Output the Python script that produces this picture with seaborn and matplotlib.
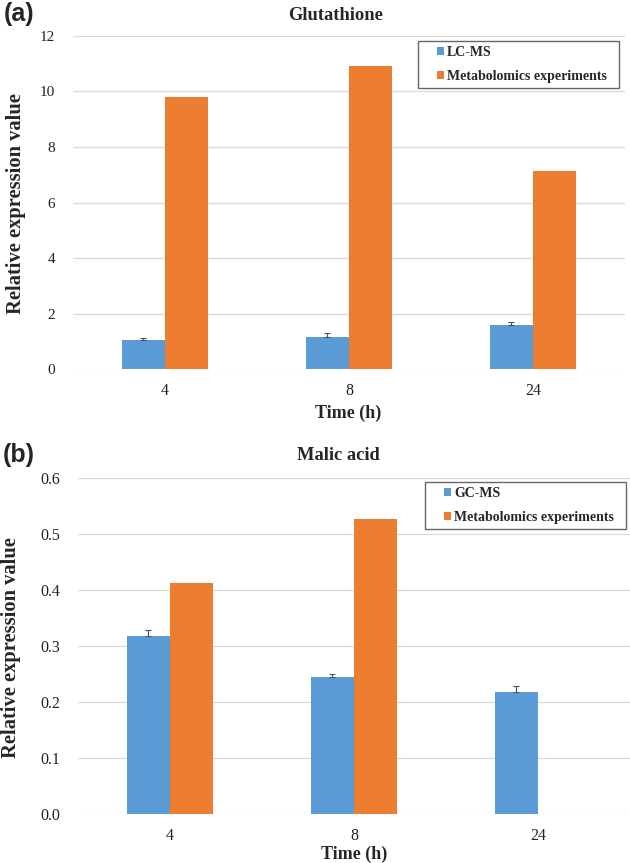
import numpy as np
import pandas as pd
import matplotlib
matplotlib.use('Agg')
import matplotlib.pyplot as plt
from matplotlib.patches import Rectangle
from matplotlib.legend_handler import HandlerPatch
import seaborn as sns

#%% data
times = ['4', '8', '24']
methods_a = ['LC-MS', 'Metabolomics experiments']
methods_b = ['GC-MS', 'Metabolomics experiments']

glu_lcms = [1.05, 1.17, 1.59]
glu_lcms_err = [0.06, 0.11, 0.12]
glu_metab = [9.79, 10.92, 7.13]

mal_gcms = [0.317, 0.245, 0.217]
mal_gcms_err = [0.012, 0.005, 0.012]
mal_metab = [0.412, 0.527, np.nan]

blue = '#5B9BD5'
orange = '#ED7D31'
grid_c = '#D9D9D9'

#%% style
sns.set_style('white')
plt.rcParams['font.family'] = ['Liberation Serif', 'DejaVu Serif']

fig = plt.figure(figsize=(6.3, 8.63), dpi=100)
ax_a = fig.add_axes([0.1159, 0.5724, 0.876, 0.3859])
ax_b = fig.add_axes([0.1238, 0.0568, 0.876, 0.3893])


# small square legend key sitting at the right end of the handle box
def square_key(legend, orig_handle, xdescent, ydescent, width, height, fontsize):
    s = 5.5
    return Rectangle((width - xdescent - s, -ydescent + (height - s) / 2), s, s)


def panel(ax, v1, e1, v2, methods, ylim, yticks, fmt, tick_fs):
    df = pd.DataFrame({'time': times * 2,
                       'value': list(v1) + list(v2),
                       'method': [methods[0]] * 3 + [methods[1]] * 3})
    sns.barplot(data=df, x='time', y='value', hue='method', order=times,
                hue_order=methods, palette=[blue, orange], saturation=1,
                width=0.47, gap=0, errorbar=None, linewidth=0, ax=ax)
    # upper error bars on the first series
    bars = ax.containers[0]
    xs = [p.get_x() + p.get_width() / 2 for p in bars]
    ys = [p.get_height() for p in bars]
    ax.errorbar(xs, ys, yerr=[np.zeros(len(e1)), e1], fmt='none',
                ecolor='#505050', elinewidth=0.8, capsize=2.5, capthick=0.8,
                zorder=3)
    ax.set_xlim(-0.5, 2.5)
    ax.set_ylim(*ylim)
    ax.set_yticks(yticks)
    ax.set_yticklabels([fmt % t for t in yticks])
    ax.set_axisbelow(True)
    ax.yaxis.grid(True, color=grid_c, lw=0.9)
    for s in ax.spines.values():
        s.set_visible(False)
    ax.tick_params(axis='y', length=0, pad=13, labelsize=tick_fs, labelcolor='#222222')
    ax.tick_params(axis='x', length=0, pad=10, labelsize=11.5, labelcolor='#222222')
    for t in ax.get_xticklabels() + ax.get_yticklabels():
        t.set_fontfamily(['Liberation Serif', 'DejaVu Serif'])
    ax.set_xlabel('')
    ax.set_ylabel('')
    handles, labels = ax.get_legend_handles_labels()
    labels = [l + '  ' if l.startswith('Metab') else l for l in labels]
    leg = ax.legend(handles, labels, loc='upper right', frameon=True, fancybox=False,
                    handlelength=1.55, handleheight=0.55, handletextpad=0.2,
                    labelspacing=0.8, borderpad=0.35, borderaxespad=0,
                    handler_map={Rectangle: HandlerPatch(patch_func=square_key)},
                    prop={'family': 'Liberation Serif', 'weight': 'bold', 'size': 10})
    leg.get_frame().set_edgecolor('#404040')
    leg.get_frame().set_linewidth(1.0)
    return leg


leg_a = panel(ax_a, glu_lcms, glu_lcms_err, glu_metab, methods_a,
              (0, 12), list(range(0, 13, 2)), '%d', 11)
leg_a.set_bbox_to_anchor((0.989, 0.985), transform=ax_a.transAxes)

leg_b = panel(ax_b, mal_gcms, mal_gcms_err, mal_metab, methods_b,
              (0, 0.6), [0.0, 0.1, 0.2, 0.3, 0.4, 0.5, 0.6], '%.1f', 11.5)
leg_b.set_bbox_to_anchor((0.993, 0.988), transform=ax_b.transAxes)

#%% text
W, H = 630, 863
def ftext(x, y, s, **kw):
    fig.text(x / W, 1 - y / H, s, ha='center', va='center', **kw)

ftext(336, 16, 'Glutathione', fontsize=13.3, fontweight='bold')
ftext(338, 456, 'Malic acid', fontsize=13.3, fontweight='bold')
ftext(348, 413, 'Time (h)', fontsize=13, fontweight='bold')
ftext(354, 854, 'Time (h)', fontsize=13, fontweight='bold')
ftext(16, 204, 'Relative expression value', fontsize=14.8, fontweight='bold', rotation=90)
ftext(11, 648, 'Relative expression value', fontsize=14.8, fontweight='bold', rotation=90)
ftext(19, 14, '(a)', fontsize=18, fontweight='bold', family=['Liberation Sans', 'DejaVu Sans'])
ftext(19, 455, '(b)', fontsize=18, fontweight='bold', family=['Liberation Sans', 'DejaVu Sans'])

fig.savefig('out.png', dpi=100)
